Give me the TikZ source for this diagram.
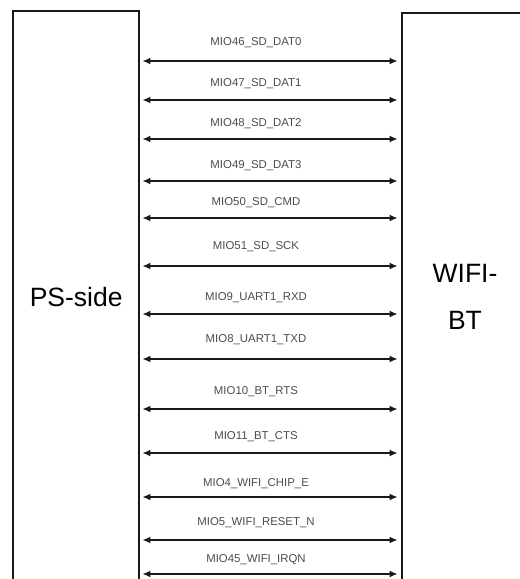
\documentclass[tikz,border=0pt]{standalone}
\usepackage{fontspec}
\setmainfont{Liberation Sans}
\usetikzlibrary{arrows.meta}
\begin{document}
\begin{tikzpicture}[x=1pt,y=-1pt,
  block/.style={draw=black!90, line width=2.2pt, inner sep=0pt, font=\fontsize{26.5}{47}\selectfont, align=center},
  sig/.style={line width=1.6pt, black!90, {Latex[length=8pt,width=7pt]}-{Latex[length=8pt,width=7pt]}, shorten <=2pt, shorten >=3pt},
  lbl/.style={font=\fontsize{11.4}{12}\selectfont, text=black!70, inner sep=0pt}]
\useasboundingbox (0,0) rectangle (520,579);
\clip (0,0) rectangle (520,579);
\node[block, minimum width=126.3pt, minimum height=572.6pt] (ps) at (76.15,297) {PS-side};
\node[block, minimum width=126.6pt, minimum height=568.6pt] (wifi) at (465,297) {WIFI-\\BT};
\foreach \ay/\ly/\t in {61/43/MIO46\_SD\_DAT0, 100/84/MIO47\_SD\_DAT1, 139/124/MIO48\_SD\_DAT2, 181/166/MIO49\_SD\_DAT3, 218/203/MIO50\_SD\_CMD, 266/247/MIO51\_SD\_SCK, 314/298/MIO9\_UART1\_RXD, 359/340/MIO8\_UART1\_TXD, 409/392/MIO10\_BT\_RTS, 453/437/MIO11\_BT\_CTS, 497/484/MIO4\_WIFI\_CHIP\_E, 540/523/MIO5\_WIFI\_RESET\_N, 574/560/MIO45\_WIFI\_IRQN}{
  \draw[sig] (ps.east |- 0,\ay) -- (wifi.west |- 0,\ay);
  \node[lbl] (l\ay) at (256,\ly) {\t};
}
\end{tikzpicture}
\end{document}
